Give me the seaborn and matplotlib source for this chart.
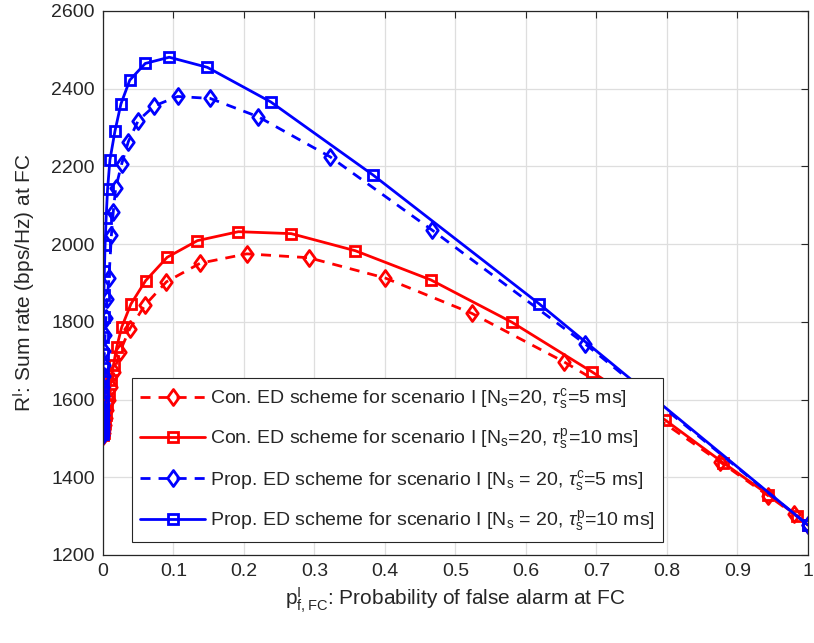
import numpy as np
import pandas as pd
import matplotlib
matplotlib.use('Agg')
import matplotlib.pyplot as plt
import seaborn as sns
from matplotlib.path import Path

# Valores
con_5ms_x = [0.0003, 0.0008, 0.0015, 0.0025, 0.004, 0.006, 0.0085, 0.0115, 0.0155,
             0.024, 0.038, 0.0596, 0.090, 0.138, 0.204, 0.292, 0.400, 0.523, 0.654,
             0.770, 0.875, 0.944, 0.980, 1.0]
con_5ms_y = [1507, 1513, 1522, 1535, 1552, 1573, 1600, 1632, 1670,
             1723, 1782, 1843, 1903, 1951, 1975, 1965, 1913, 1822, 1697,
             1572, 1440, 1352, 1305, 1277]

con_10ms_x = [0.0003, 0.0008, 0.0015, 0.0025, 0.004, 0.006, 0.0085, 0.0115, 0.015,
              0.0195, 0.0265, 0.0397, 0.0605, 0.091, 0.134, 0.192, 0.267, 0.358,
              0.465, 0.580, 0.693, 0.797, 0.880, 0.944, 0.985, 1.0]
con_10ms_y = [1508, 1515, 1525, 1540, 1560, 1585, 1615, 1650, 1690,
              1735, 1786, 1846, 1906, 1966, 2009, 2032, 2027, 1983,
              1908, 1799, 1672, 1548, 1437, 1355, 1300, 1277]

prop_5ms_x = [0.00001, 0.00002, 0.00003, 0.00005, 0.00008, 0.00012, 0.00017, 0.00025,
              0.00035, 0.0005, 0.0007, 0.001, 0.0015, 0.0021, 0.003, 0.0042, 0.006,
              0.0085, 0.012, 0.0146, 0.018, 0.0265, 0.036, 0.050, 0.073, 0.106,
              0.152, 0.220, 0.322, 0.467, 0.684, 1.0]
prop_5ms_y = [1510, 1516, 1522, 1529, 1537, 1547, 1559, 1573,
              1590, 1610, 1633, 1660, 1690, 1725, 1765, 1810, 1860,
              1913, 2024, 2083, 2144, 2206, 2264, 2318, 2356, 2380,
              2375, 2328, 2225, 2036, 1743, 1277]

prop_10ms_x = [0.000001, 0.000002, 0.000005, 0.00001, 0.00002, 0.00003, 0.00005,
               0.00008, 0.00012, 0.00018, 0.00027, 0.0004, 0.0006, 0.0009, 0.0013,
               0.002, 0.003, 0.0045, 0.0065, 0.0099, 0.017, 0.0255, 0.038, 0.060,
               0.094, 0.148, 0.238, 0.383, 0.619, 1.0]
prop_10ms_y = [1512, 1518, 1525, 1534, 1545, 1558, 1575,
               1595, 1619, 1647, 1680, 1718, 1762, 1812, 1868,
               1930, 1998, 2067, 2141, 2217, 2291, 2361, 2422, 2465,
               2481, 2455, 2366, 2178, 1846, 1277]

labels = [r'Con. ED scheme for scenario I [N$_{\rm s}$=20, $\tau^{\rm c}_{\rm s}$=5 ms]',
          r'Con. ED scheme for scenario I [N$_{\rm s}$=20, $\tau^{\rm p}_{\rm s}$=10 ms]',
          r'Prop. ED scheme for scenario I [N$_{\rm s}$ = 20, $\tau^{\rm c}_{\rm s}$=5 ms]',
          r'Prop. ED scheme for scenario I [N$_{\rm s}$ = 20, $\tau^{\rm p}_{\rm s}$=10 ms]']

x_ticks = np.arange(0, 1.01, 0.1)
x_tick_labels = ['0', '0.1', '0.2', '0.3', '0.4', '0.5', '0.6', '0.7', '0.8', '0.9', '1']
y_ticks = [1200, 1400, 1600, 1800, 2000, 2200, 2400, 2600]

sns.set_style('whitegrid')
plt.rcParams['font.family'] = ['Liberation Sans', 'DejaVu Sans']
plt.rcParams['mathtext.fontset'] = 'custom'
plt.rcParams['mathtext.rm'] = 'Liberation Sans'
plt.rcParams['mathtext.it'] = 'Liberation Sans:italic'
plt.rcParams['xtick.direction'] = 'in'
plt.rcParams['ytick.direction'] = 'in'

# diamante estilo MATLAB (más alto que ancho)
diamante = Path([(0, 1), (0.72, 0), (0, -1), (-0.72, 0), (0, 1)],
                [Path.MOVETO, Path.LINETO, Path.LINETO, Path.LINETO, Path.CLOSEPOLY])

fig = plt.figure(figsize=(8.14, 6.43), dpi=100)
ax = fig.add_axes([0.1265, 0.1369, 0.8661, 0.846])

series = [
    (con_5ms_x, con_5ms_y, 'red', (0, (3.6, 2.9)), diamante, 11.5),
    (con_10ms_x, con_10ms_y, 'red', '-', 's', 7.5),
    (prop_5ms_x, prop_5ms_y, 'blue', (0, (3.6, 2.9)), diamante, 11.5),
    (prop_10ms_x, prop_10ms_y, 'blue', '-', 's', 7.5),
]

for (xs, ys, color, ls, mk, ms), lab in zip(series, labels):
    df = pd.DataFrame({'pf': xs, 'rate': ys})
    sns.lineplot(data=df, x='pf', y='rate', ax=ax, sort=False, color=color,
                 linestyle=ls, linewidth=2, marker=mk, markersize=ms,
                 markerfacecolor='none', markeredgecolor=color,
                 markeredgewidth=2, label=lab)

ax.set_xlim(0, 1)
ax.set_ylim(1200, 2600)
ax.set_xticks(x_ticks)
ax.set_xticklabels(x_tick_labels)
ax.set_yticks(y_ticks)
ax.tick_params(axis='both', labelsize=14, colors='#262626', length=5, width=0.8,
               top=True, right=True, pad=6)
ax.grid(True, color='#dedede', linewidth=0.9)
for s in ax.spines.values():
    s.set_color('#262626')
    s.set_linewidth(0.9)

ax.set_xlabel(r'p$^{\rm I}_{\rm f,FC}$: Probability of false alarm at FC', fontsize=15,
              color='#262626', labelpad=4)
ax.set_ylabel(r'R$^{\rm I}$: Sum rate (bps/Hz) at FC', fontsize=15, color='#262626',
              labelpad=10)

leg = ax.legend(loc='lower left', bbox_to_anchor=(0.027, 0.0055), fontsize=14,
                handlelength=3.3, labelspacing=0.8, borderpad=0.45,
                fancybox=False, framealpha=1, edgecolor='#262626', handletextpad=0.25)
leg.get_frame().set_linewidth(0.8)

fig.savefig('out.png', dpi=100)
